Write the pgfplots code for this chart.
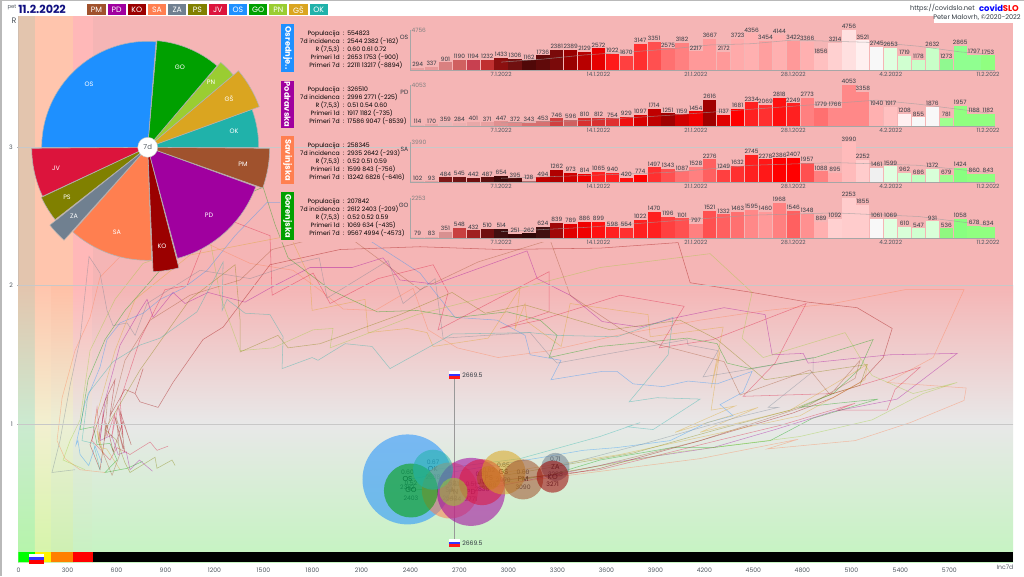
\documentclass[border=0pt]{standalone}
\usepackage{fontspec}
\setmainfont{Poppins}
\usepackage{pgfplots}
\pgfplotsset{compat=1.18}
% party colours
\definecolor{cPM}{HTML}{A0522D}\definecolor{cPD}{HTML}{A0009F}\definecolor{cKO}{HTML}{9B0000}
\definecolor{cSA}{HTML}{FF7F50}\definecolor{cZA}{HTML}{708090}\definecolor{cPS}{HTML}{808000}
\definecolor{cJV}{HTML}{DC143C}\definecolor{cOS}{HTML}{1E90FF}\definecolor{cGO}{HTML}{00A000}
\definecolor{cPN}{HTML}{9ACD32}\definecolor{cGS}{HTML}{DAA520}\definecolor{cOK}{HTML}{20B2AA}
\definecolor{navy2}{HTML}{101080}\definecolor{txt}{HTML}{303840}\definecolor{tick}{HTML}{505860}
\definecolor{pinkbg}{HTML}{F5B5B5}\definecolor{gridc}{HTML}{C8C8C8}
% background columns: top / R=2 / R=1 / bottom
\definecolor{a1}{HTML}{E3C5AE}\definecolor{a2}{HTML}{E3C5AE}\definecolor{a3}{HTML}{CBEAD0}\definecolor{a4}{HTML}{B4F5A8}
\definecolor{b1}{HTML}{FFC5AD}\definecolor{b2}{HTML}{FFC5AD}\definecolor{b3}{HTML}{F2F0D0}\definecolor{b4}{HTML}{D4F5A8}
\definecolor{d1}{HTML}{FFC5AD}\definecolor{d2}{HTML}{FFC0A6}\definecolor{d3}{HTML}{ECEFD5}\definecolor{d4}{HTML}{CCF0B0}
\definecolor{e1}{HTML}{FFB8B8}\definecolor{e2}{HTML}{FFB8B8}\definecolor{e3}{HTML}{E8E8E0}\definecolor{e4}{HTML}{C6F2C0}
\definecolor{f1}{HTML}{F5B5B5}\definecolor{f2}{HTML}{F5B5B5}\definecolor{f3}{HTML}{E8E8E8}\definecolor{f4}{HTML}{C4F4C0}
\newcommand\BG[3]{%
 \addplot[draw=none,fill=#31] coordinates {(#1,3.946)(#2,3.946)(#2,2)(#1,2)} --cycle;
 \addplot[draw=none,top color=#32,bottom color=#33] coordinates {(#1,2)(#2,2)(#2,1)(#1,1)} --cycle;
 \addplot[draw=none,top color=#33,bottom color=#34] coordinates {(#1,1)(#2,1)(#2,0.0036)(#1,0.0036)} --cycle;}
\pgfplotsset{traj/.style={line width=.4pt,opacity=.42}}
\newcommand\T[2]{\addplot[traj,draw=#1] coordinates {#2};}
\newcommand\BUB[4]{\addplot[only marks,mark=*,mark size=#3*0.75pt,mark options={draw opacity=0,fill=#4,fill opacity=.55}] coordinates {(#1,#2)};}
\newcommand\BL[5]{\node[align=center,inner sep=0pt,font=\fontsize{4.6}{5.6}\selectfont,text=txt] at (axis cs:#1,#2) {#3\\{\fontsize{5.4}{5.6}\selectfont\color{black}#4}\\#5};}
% bars
\newcommand\B[3]{\definecolor{c#3}{HTML}{#3}\addplot[ybar,bar width=9.97pt,bar shift=0pt,draw=none,fill=c#3,nodes near coords] coordinates {(#1,#2)};}
\pgfplotsset{panel/.style={scale only axis,width=438.75pt,clip=false,xmin=-0.55,xmax=41.5,ymin=0,
  axis x line=bottom,axis y line=left,axis line style={-,draw=gray!70,line width=.4pt},
  ytick=\empty,xtick={6,13,20,27,34,41},xticklabels={7.1.2022,14.1.2022,21.1.2022,28.1.2022,4.2.2022,11.2.2022},
  major tick length=0pt,x tick label style={font=\fontsize{4.3}{5}\selectfont,text=tick,yshift=2.2pt},
  every node near coord/.append style={font=\fontsize{4.4}{5}\selectfont,text=txt,inner sep=.4pt,yshift=.3pt},
  /pgf/number format/.cd,1000 sep={},fixed,precision=0,assume math mode=true}}
\newcommand\trend[1]{\addplot[line width=.4pt,draw=gray!75,opacity=.7] coordinates {#1};}
% stats block
\newcommand\SL[3]{%
  \node[anchor=base east,inner sep=0pt,font=\fontsize{4.6}{6}\selectfont,text=black] at (340,#1+1.8) {#2};
  \node[anchor=base,inner sep=0pt,font=\fontsize{4.6}{6}\selectfont,text=black] at (343.5,#1+1.8) {:};
  \node[anchor=base west,inner sep=0pt,font=\fontsize{4.6}{6}\selectfont,text=black] at (347,#1+1.8) {#3};}
\newcommand\Stat[6]{%
 \SL{#1}{Populacija}{#2}\SL{#1+8}{7d incidenca}{#3}\SL{#1+16}{R (7,5,3)}{#4}\SL{#1+24}{Primeri 1d}{#5}\SL{#1+32}{Primeri 7d}{#6}}
\newcommand\Tab[4]{\fill[#2] (281,#3) rectangle (294,#4);
 \node[rotate=-90,text=white,font=\fontsize{6.2}{6}\selectfont\bfseries,inner sep=0pt] at (287.5,{(#3+#4)/2}) {#1};}
\newcommand\Btn[3]{\fill[#2] (#3,4) rectangle ++(18.2,11);
 \node[text=white,font=\fontsize{5.8}{6}\selectfont,inner sep=0pt] at (#3+9.1,9.7) {#1};}
\newcommand\Flag[2]{\fill[white] (#1,#2) rectangle ++(11,2.8);\fill[blue!80] (#1,#2+2.8) rectangle ++(11,2.6);\fill[red!90] (#1,#2+5.4) rectangle ++(11,2.8);}
\begin{document}
\begin{tikzpicture}[x=0.75pt,y=-0.75pt]
\useasboundingbox (0,0) rectangle (1024,576);
\fill[white] (0,0) rectangle (1024,576);
\begin{axis}[at={(13.875pt,-421.5pt)},anchor=south west,scale only axis,width=745.9pt,height=409.5pt,
  xmin=0,xmax=6090,ymin=0.0036,ymax=3.946,
  axis x line=bottom,axis y line=left,axis line style={-,draw=gray!60,line width=.4pt},
  xtick={0,300,...,5700},ytick={1,2,3},
  major tick length=1.5pt,tick style={draw=gray!60},
  tick label style={font=\fontsize{4.6}{5}\selectfont,text=tick},
  /pgf/number format/.cd,1000 sep={},assume math mode=true]
\BG{0}{100}{a}\BG{100}{200}{b}\BG{200}{336}{d}\BG{336}{454}{e}\BG{454}{6090}{f}
% trajectories (7-day incidence, R) of the twelve regions
\T{cOS}{(510,.72)(470,.84)(430,.70)(377,.78)(364,.88)(352,.85)(407,1.15)(499,1.41)(542,1.61)(622,1.73)(763,1.80)(867,1.90)(1008,1.98)(1155,2.11)(1326,2.36)(1522,2.60)(1602,2.60)(1724,2.55)(2104,2.36)(2459,2.09)(2551,1.95)(2673,1.77)(2931,1.75)(3102,1.64)(3133,1.50)(3322,1.46)(3261,1.32)(3574,1.38)(3665,1.38)(3763,1.29)(3947,1.27)(4100,1.31)(4278,1.29)(4492,1.38)(4437,1.23)(4296,1.14)(4376,1.06)(4217,1.01)(3990,.88)(3665,.83)(3457,.81)(3212,.76)(2382,.60)}
\T{cGO}{(760,.73)(665,.68)(530,.65)(603,.74)(560,.86)(481,.85)(460,.98)(377,.96)(426,1.32)(530,1.61)(652,1.82)(867,2.11)(1173,2.55)(1498,2.71)(1571,2.44)(1651,2.20)(1908,1.97)(2196,1.81)(2441,1.82)(2686,1.77)(2992,1.81)(3194,1.75)(3298,1.64)(3249,1.48)(3561,1.56)(4094,1.62)(4278,1.58)(4339,1.44)(4480,1.40)(4878,1.48)(5233,1.61)(5153,1.40)(4988,1.22)(4786,1.12)(5013,1.15)(5264,1.18)(4860,1.04)(4602,.88)(4253,.83)(4002,.83)(3561,.74)(3255,.63)(2403,.52)}
\T{cPD}{(820,.66)(740,.74)(683,.67)(660,.80)(610,.78)(570,.92)(499,.88)(530,1.17)(622,1.57)(744,1.82)(787,1.90)(824,1.77)(946,1.95)(1020,1.87)(1161,1.95)(1387,1.88)(1553,1.99)(1785,2.13)(2043,2.13)(2232,2.20)(2336,2.04)(2551,2.01)(3114,2.25)(3176,2.05)(3378,1.93)(3574,1.74)(3806,1.70)(4033,1.77)(4321,1.84)(4572,1.79)(4615,1.50)(4805,1.51)(4835,1.44)(5337,1.50)(5748,1.51)(5380,1.18)(4988,1.09)(4633,.96)(4253,.83)(3684,.73)(2771,.51)}
\T{cSA}{(530,.65)(377,.67)(285,.75)(236,.88)(267,1.19)(346,1.53)(438,1.77)(499,2.06)(665,2.26)(1050,2.36)(1418,2.16)(1681,2.11)(1865,1.95)(1988,1.83)(2184,1.82)(2416,1.98)(2508,1.68)(2686,1.55)(2937,1.48)(3255,1.53)(3665,1.64)(4173,1.75)(4584,1.82)(4988,1.87)(5429,1.97)(5790,1.97)(5601,1.48)(5319,1.30)(5803,1.26)(5790,1.17)(5460,1.01)(5123,.88)(4584,.82)(4774,.89)(4173,.75)(2642,.52)}
\T{cJV}{(916,.84)(848,.81)(806,.87)(683,.78)(603,.83)(560,.74)(450,.88)(481,1.12)(499,.88)(518,1.08)(542,.91)(591,1.08)(570,.90)(610,1.13)(640,.92)(622,1.17)(744,1.61)(897,1.97)(1032,2.00)(1142,2.33)(1296,2.47)(1540,2.36)(1553,1.93)(1804,2.09)(1908,1.87)(2202,2.05)(2539,2.15)(2631,1.95)(2569,1.68)(3249,2.10)(3249,1.81)(2949,1.69)(3194,1.75)(3684,1.93)(4076,1.85)(3923,1.55)(4253,1.61)(4823,1.87)(4633,1.44)(4437,1.20)(4988,1.22)(5521,1.41)(5368,1.25)(5319,1.10)(5013,1.10)(5123,1.15)(4664,.99)(4278,.88)(3561,.67)(2838,.58)}
\T{cKO}{(640,.82)(590,1.05)(650,.80)(620,1.10)(690,.85)(640,1.02)(580,.80)(540,1.00)(499,.67)(438,.85)(530,1.17)(591,1.32)(560,1.06)(652,1.25)(714,1.22)(763,1.40)(714,1.22)(744,1.16)(855,1.12)(946,1.30)(1130,1.61)(1253,1.70)(1540,2.15)(1969,2.26)(2459,2.28)(2949,2.26)(3561,2.27)(4039,2.31)(4113,2.02)(4492,1.95)(4835,1.88)(5135,1.84)(5350,1.69)(5295,1.48)(5153,1.30)(4988,1.19)(4743,1.08)(4174,.88)(3561,.68)(3271,.62)}
\T{cGS}{(622,.67)(540,.82)(499,.83)(480,.95)(520,.78)(469,1.03)(591,1.53)(714,1.90)(1050,2.22)(1663,2.36)(1785,2.05)(1798,1.82)(2122,1.90)(2141,1.66)(2380,1.69)(2502,1.66)(2539,1.56)(2876,1.62)(3071,1.98)(3041,1.69)(3102,1.87)(3114,1.74)(3323,1.56)(3378,1.87)(3855,1.79)(3868,1.63)(4315,1.70)(4241,1.26)(4296,1.53)(4241,1.10)(4388,1.13)(4021,.94)(4529,1.12)(4174,.94)(4725,1.10)(5197,1.43)(5184,1.32)(4786,1.06)(3684,.78)(2970,.65)}
\T{cPN}{(408,.67)(273,.74)(316,.88)(377,1.03)(438,1.53)(591,1.90)(763,2.16)(1173,2.33)(1234,1.93)(1357,1.53)(1559,1.55)(1804,1.68)(1926,1.69)(1908,1.55)(2441,1.79)(3071,1.98)(3561,2.13)(4235,2.23)(4492,1.95)(4431,1.62)(4560,1.48)(5062,1.66)(5153,1.48)(5227,1.35)(5478,1.22)(5748,1.30)(5540,1.22)(5227,1.03)(4786,.91)(4051,.80)(2664,.51)}
\T{cPS}{(959,.70)(940,.74)(848,.68)(836,.76)(683,.65)(652,.72)(603,.88)(530,.96)(744,1.39)(1050,1.90)(1326,2.15)(1357,1.75)(1357,1.52)(1589,1.64)(1651,1.55)(1847,1.58)(2337,1.79)(2655,1.95)(2857,1.80)(3102,1.86)(3623,1.68)(4051,1.75)(4278,1.61)(4572,1.32)(5197,1.43)(5153,1.28)(4988,1.22)(4725,1.10)(4278,.96)(3763,.79)(2880,.61)}
\T{cZA}{(346,.67)(205,.65)(254,.88)(316,1.28)(377,1.61)(432,2.21)(499,2.09)(542,1.82)(579,1.71)(665,1.73)(714,1.64)(787,1.87)(1112,2.11)(1418,2.05)(1694,2.16)(1841,2.20)(1890,1.91)(2263,2.18)(2355,1.87)(2551,2.05)(2600,1.62)(3133,1.66)(3255,1.49)(3298,1.44)(4094,1.61)(4100,1.57)(4284,1.53)(4192,1.34)(4498,1.40)(4866,1.48)(4866,1.38)(4590,1.12)(4652,1.12)(4406,1.05)(3806,.85)(3288,.69)}
\T{cPM}{(640,.90)(600,1.04)(620,.78)(573,.63)(487,.88)(548,1.21)(524,.88)(652,1.46)(806,1.75)(1050,1.93)(1357,2.04)(1553,2.26)(1785,2.33)(2012,2.36)(2459,1.97)(2814,2.17)(3255,2.33)(3378,1.93)(3696,1.68)(3929,1.57)(4321,1.45)(4419,1.21)(4847,1.39)(4970,1.21)(5153,1.46)(5123,1.33)(4847,1.14)(4174,.88)(3561,.70)(3090,.60)}
\T{cOK}{(499,.67)(460,.86)(389,.88)(426,1.22)(579,1.45)(744,1.57)(867,1.62)(1093,1.81)(1253,2.17)(1247,1.82)(1277,1.90)(1387,1.80)(1540,1.79)(1620,1.63)(1614,1.40)(1798,1.48)(1834,1.46)(2000,1.58)(2165,1.56)(2275,1.40)(2612,1.62)(2655,1.65)(3133,1.66)(3298,1.64)(3665,1.63)(4008,1.77)(3978,1.50)(3739,1.16)(3910,1.19)(4174,1.18)(3886,.96)(3727,.98)(3806,1.01)(3561,.91)(3071,.75)(2538,.67)}
% panel backdrop and R grid lines
\addplot[draw=none,fill=pinkbg] coordinates {(1601,3.946)(6090,3.946)(6090,2.314)(1601,2.314)} --cycle;
\addplot[draw=gridc,line width=.4pt] coordinates {(0,1)(6090,1)};
\addplot[draw=gridc,line width=.4pt] coordinates {(0,2)(6090,2)};
\addplot[draw=gridc,line width=.4pt] coordinates {(0,3)(6090,3)};
% strip above the x axis
\addplot[draw=none,fill=green] coordinates {(0,.0036)(100,.0036)(100,.0725)(0,.0725)} --cycle;
\addplot[draw=none,fill=yellow] coordinates {(100,.0036)(200,.0036)(200,.0725)(100,.0725)} --cycle;
\addplot[draw=none,fill=orange] coordinates {(200,.0036)(336,.0036)(336,.0725)(200,.0725)} --cycle;
\addplot[draw=none,fill=red] coordinates {(336,.0036)(454,.0036)(454,.0725)(336,.0725)} --cycle;
\addplot[draw=none,fill=black] coordinates {(454,.0036)(6090,.0036)(6090,.0725)(454,.0725)} --cycle;
% national value
\addplot[draw=gray!80,line width=.6pt] coordinates {(2669.5,.135)(2669.5,1.345)};
% bubbles
\BUB{2382}{.60}{45}{cOS}
\BUB{2642}{.52}{28}{cSA}
\BL{2642}{.52}{0.52}{SA}{2642}
\BUB{2771}{.51}{34}{cPD}
\BL{2771}{.51}{0.51}{PD}{2771}
\BL{2382}{.60}{0.60}{OS}{2382}
\BUB{2403}{.52}{27}{cGO}
\BUB{2538}{.67}{20}{cOK}
\BL{2880}{.61}{0.62}{PS}{2880}
\BUB{2880}{.61}{12}{cPS}
\BUB{2838}{.58}{23}{cJV}
\BUB{2970}{.65}{22}{cGS}
\BUB{3090}{.60}{20}{cPM}
\BUB{2664}{.51}{14}{cPN}
\BUB{3288}{.69}{14}{cZA}
\BUB{3271}{.62}{16}{cKO}
\BL{2403}{.52}{0.52}{GO}{2403}
\BL{2538}{.67}{0.67}{OK}{2538}
\BL{2664}{.51}{0.51}{PN}{2664}
\BL{2838}{.58}{0.60}{JV}{2838}
\BL{2970}{.65}{0.65}{GŠ}{2970}
\BL{3090}{.60}{0.60}{PM}{3090}
\BL{3288}{.69}{0.71}{ZA}{3288}
\BL{3271}{.60}{}{KO}{3271}
\end{axis}
\node[font=\fontsize{4.6}{5}\selectfont,text=tick,inner sep=0pt] at (1005,567.5) {Inc7d};
\node[font=\fontsize{6}{6}\selectfont,text=tick,inner sep=0pt] at (14,21) {R};
% flags with the national value
\Flag{449}{371}\Flag{449}{539}
\node[anchor=west,inner sep=0pt,font=\fontsize{4.6}{5}\selectfont,text=txt] at (462,375) {2669.5};
\node[anchor=west,inner sep=0pt,font=\fontsize{4.6}{5}\selectfont,text=txt] at (462,543) {2669.5};
\fill[white] (29,554) rectangle ++(15,3.2);\fill[blue!80] (29,557.2) rectangle ++(15,3.2);\fill[red] (29,560.4) rectangle ++(15,3.2);
% header
\node[inner sep=0pt,font=\fontsize{4}{5}\selectfont,text=tick] at (12,7) {pet};
\node[anchor=west,inner sep=0pt,font=\fontsize{8.4}{10}\selectfont\bfseries,text=navy2] at (18,9.5) {11.2.2022};
\Btn{PM}{cPM}{87.3}\Btn{PD}{cPD}{107.5}\Btn{KO}{cKO}{127.7}\Btn{SA}{cSA}{147.9}
\Btn{ZA}{cZA}{168.1}\Btn{PS}{cPS}{188.3}\Btn{JV}{cJV}{208.6}\Btn{OS}{cOS}{228.8}
\Btn{GO}{cGO}{249}\Btn{PN}{cPN}{269.2}\Btn{GŠ}{cGS}{289.4}\Btn{OK}{cOK}{309.6}
\node[anchor=east,inner sep=0pt,font=\fontsize{5}{6}\selectfont,text=txt] at (975,8.2) {https://covidslo.net};
\node[anchor=east,inner sep=0pt,font=\fontsize{6.3}{7}\selectfont\bfseries] at (1019,8) {\textcolor{blue}{covid}\textcolor{red}{SLO}};
\fill[white] (934,12) rectangle (1024,23);
\node[anchor=east,inner sep=0pt,font=\fontsize{4.9}{6}\selectfont,text=txt] at (1021,17.8) {Peter Malovrh, ©2020-2022};
% region tabs
\Tab{Osrednje..}{cOS}{24}{72}\Tab{Podravska}{cPD}{81}{128}\Tab{Savinjska}{cSA}{136}{184}\Tab{Gorenjska}{cGO}{192}{240}
\Stat{33.7}{554823}{2544 2382 (-162)}{0.60 0.61 0.72}{2653 1753 (-900)}{22111 13217 (-8894)}
\Stat{89.3}{326510}{2996 2771 (-225)}{0.51 0.54 0.60}{1917 1182 (-735)}{17586 9047 (-8539)}
\Stat{145.3}{258345}{2935 2642 (-293)}{0.52 0.51 0.59}{1599 843 (-756)}{13242 6826 (-6416)}
\Stat{201.3}{207842}{2612 2403 (-209)}{0.52 0.52 0.59}{1069 634 (-435)}{9567 4994 (-4573)}
% panel: Osrednje
\begin{axis}[panel,at={(307.5pt,-52.5pt)},anchor=south west,height=30pt,ymax=4756]
\B{0}{294}{E8A0A0}\B{1}{337}{E89A9A}\B{2}{901}{D98080}\B{3}{1190}{D06060}\B{4}{1194}{C84050}\B{5}{1232}{C03030}\B{6}{1433}{8B1010}
\B{7}{1306}{701010}\B{8}{1162}{500808}\B{9}{1736}{600A0A}\B{10}{2381}{7A0A0A}\B{11}{2389}{990000}\B{12}{2129}{B80000}\B{13}{2572}{E60000}
\B{14}{1922}{FF1A1A}\B{15}{1670}{FF4040}\B{16}{3147}{FF3030}\B{17}{3351}{FF5050}\B{18}{2575}{FF7070}\B{19}{3182}{FF8080}\B{20}{2217}{FF9999}
\B{21}{3667}{FF9999}\B{22}{2172}{FF9999}\B{23}{3723}{FFAAAA}\B{24}{4356}{FFB0B0}\B{25}{3454}{FF9F9F}\B{26}{4144}{FFB0B0}\B{27}{3422}{FF9999}
\B{28}{3366}{FFB0B0}\B{29}{1856}{FFC0C0}\B{30}{3214}{FFD0D0}\B{31}{4756}{FFE0E0}\B{32}{3521}{FFF0F0}\B{33}{2745}{F8F8F8}\B{34}{2653}{E0FFE0}
\B{35}{1719}{D0FFD0}\B{36}{1178}{C8FFC8}\B{37}{2632}{C8FFC8}\B{38}{1273}{90F990}\B{39}{2865}{90FF90}\B{40}{1797}{90FF90}\B{41}{1753}{90FF80}
\trend{(6,940)(9,1293)(12,1791)(15,2114)(18,2481)(21,2973)(24,3127)(27,3563)(30,3402)(33,3269)(36,2827)(39,2152)(41,1888)}
\node[anchor=west,inner sep=0pt,font=\fontsize{4.4}{5}\selectfont,text=gray] at (axis cs:-0.45,4756) {4756};
\node[anchor=east,inner sep=0pt,font=\fontsize{4.6}{5}\selectfont,text=txt] at (axis cs:-0.65,3900) {OS};
\end{axis}
% panel: Podravska
\begin{axis}[panel,at={(307.5pt,-94.5pt)},anchor=south west,height=30.75pt,ymax=4053]
\B{0}{114}{E8B0B0}\B{1}{170}{E8A8A8}\B{2}{359}{E8B8B8}\B{3}{284}{ECB0B0}\B{4}{401}{E8A8A8}\B{5}{371}{E8A0A0}\B{6}{447}{E09090}
\B{7}{372}{E08888}\B{8}{343}{D87070}\B{9}{453}{D87070}\B{10}{746}{D04040}\B{11}{596}{D06060}\B{12}{810}{D83030}\B{13}{812}{D83030}
\B{14}{754}{E03030}\B{15}{929}{F01010}\B{16}{1097}{D80000}\B{17}{1714}{C00000}\B{18}{1251}{A00000}\B{19}{1159}{D00000}\B{20}{1454}{F00000}
\B{21}{2616}{A00000}\B{22}{1137}{E00000}\B{23}{1681}{FF0000}\B{24}{2334}{FF2020}\B{25}{2069}{FF3030}\B{26}{2818}{FF1010}\B{27}{2249}{FF2020}
\B{28}{2773}{FF8080}\B{29}{1779}{FF7070}\B{30}{1766}{FF8888}\B{31}{4053}{FF8888}\B{32}{3358}{FF8888}\B{33}{1940}{FFB0B0}\B{34}{1917}{FFC0C0}
\B{35}{1208}{FFF0F0}\B{36}{855}{F8F8F8}\B{37}{1876}{F8F8F8}\B{38}{781}{A0FF90}\B{39}{1957}{90FF80}\B{40}{1188}{90FF80}\B{41}{1182}{90FF80}
\trend{(6,307)(12,538)(18,1052)(24,1662)(30,2255)(33,2560)(36,2157)(41,1292)}
\node[anchor=west,inner sep=0pt,font=\fontsize{4.4}{5}\selectfont,text=gray] at (axis cs:-0.45,4053) {4053};
\node[anchor=east,inner sep=0pt,font=\fontsize{4.6}{5}\selectfont,text=txt] at (axis cs:-0.65,3350) {PD};
\end{axis}
% panel: Savinjska
\begin{axis}[panel,at={(307.5pt,-136.7pt)},anchor=south west,height=30pt,ymax=3990]
\B{0}{102}{E0B0B0}\B{1}{93}{E0A0A0}\B{2}{484}{801818}\B{3}{545}{701515}\B{4}{442}{701010}\B{5}{487}{601010}\B{6}{654}{400808}
\B{7}{395}{500808}\B{8}{128}{B07070}\B{9}{494}{C00000}\B{10}{1262}{B00000}\B{11}{973}{D00000}\B{12}{814}{F00000}\B{13}{1065}{FF2020}
\B{14}{940}{FF2020}\B{15}{420}{FF1010}\B{16}{774}{FF0000}\B{17}{1497}{FF3030}\B{18}{1343}{FF5050}\B{19}{1087}{FF7070}\B{20}{1528}{FF8080}
\B{21}{2276}{FF6060}\B{22}{1249}{FF4040}\B{23}{1632}{FF3030}\B{24}{2745}{FF2020}\B{25}{2278}{FF1818}\B{26}{2386}{FF0000}\B{27}{2407}{FF0000}
\B{28}{1957}{FF5050}\B{29}{1088}{FF8080}\B{30}{895}{FFAAAA}\B{31}{3990}{FFBBBB}\B{32}{2252}{FFCCCC}\B{33}{1461}{F0F0F0}\B{34}{1599}{E0FFE0}
\B{35}{962}{D0FFD0}\B{36}{686}{C0FFC0}\B{37}{1372}{D8FFD8}\B{38}{679}{A0FF90}\B{39}{1424}{88FF80}\B{40}{860}{90FF80}\B{41}{843}{90FF80}
\trend{(6,401)(12,674)(18,979)(24,1694)(30,1965)(36,1692)(41,975)}
\node[anchor=west,inner sep=0pt,font=\fontsize{4.4}{5}\selectfont,text=gray] at (axis cs:-0.45,3990) {3990};
\node[anchor=east,inner sep=0pt,font=\fontsize{4.6}{5}\selectfont,text=txt] at (axis cs:-0.65,3300) {SA};
\end{axis}
% panel: Gorenjska
\begin{axis}[panel,at={(307.5pt,-178.5pt)},anchor=south west,height=30pt,ymax=2253]
\B{0}{79}{E8B0B0}\B{1}{83}{E8A8A8}\B{2}{351}{D89090}\B{3}{548}{C84040}\B{4}{432}{A02020}\B{5}{510}{701010}\B{6}{514}{401010}
\B{7}{251}{3A0808}\B{8}{262}{300808}\B{9}{624}{401010}\B{10}{839}{A00808}\B{11}{789}{E00000}\B{12}{886}{F00000}\B{13}{899}{FF1010}
\B{14}{598}{FF2020}\B{15}{554}{FF3030}\B{16}{1022}{FF2020}\B{17}{1470}{FF2020}\B{18}{1196}{FF4040}\B{19}{1101}{FF5050}\B{20}{797}{FF8080}
\B{21}{1521}{FF5050}\B{22}{1332}{FF6060}\B{23}{1463}{FF7070}\B{24}{1595}{FF8888}\B{25}{1460}{FF9999}\B{26}{1968}{FF8080}\B{27}{1546}{FF6060}
\B{28}{1348}{FF9090}\B{29}{889}{FFB0B0}\B{30}{1092}{FFD0D0}\B{31}{2253}{FFCCCC}\B{32}{1855}{FFCCCC}\B{33}{1061}{F8F8F8}\B{34}{1069}{E0FFE0}
\B{35}{610}{D8FFD8}\B{36}{547}{D0FFD0}\B{37}{931}{D8FFD8}\B{38}{536}{90F880}\B{39}{1058}{88FF80}\B{40}{678}{90FF80}\B{41}{634}{90FF80}
\trend{(6,360)(12,595)(18,946)(24,1286)(30,1414)(36,1212)(41,713)}
\node[anchor=west,inner sep=0pt,font=\fontsize{4.4}{5}\selectfont,text=gray] at (axis cs:-0.45,2253) {2253};
\node[anchor=east,inner sep=0pt,font=\fontsize{4.6}{5}\selectfont,text=txt] at (axis cs:-0.65,1850) {GO};
\end{axis}
% pie of the regions (angle from, angle to, radius in px)
\begin{scope}[shift={(147.7,147.3)}]
\foreach \aa/\bb/\rr/\cc in {0/20/111/cOK,20/40.1/118.7/cGS,40.2/49.3/112/cPN,49.6/85/107/cGO,85.5/180/106/cOS,
   180.5/205/116/cJV,205.2/218/117.5/cPS,218.5/228/125/cZA,228.5/272/113/cSA,272.5/284.5/124.5/cKO,285/340/115/cPD,340.5/359.5/122/cPM}{
  \pgfmathsetmacro\RR{\rr*0.75}
  \fill[\cc,draw=gray!60,line width=.4pt] (0pt,0pt) -- (\aa:\RR pt) arc[start angle=\aa,end angle=\bb,radius=\RR pt] -- cycle;}
\fill[white,draw=gray!50,line width=.3pt] (0pt,0pt) circle[radius=7.5pt];
\node[font=\fontsize{5.2}{6}\selectfont,text=tick,inner sep=0pt] at (0pt,0pt) {7d};
\end{scope}
\foreach \xx/\yy/\tt in {89/84/OS,180/67/GO,211/82/PN,229/99/GŠ,234/131/OK,243/164/PM,209/215/PD,162/246/KO,117/232/SA,74/216/ZA,67/197/PS,56/168/JV}
  \node[text=white,font=\fontsize{4.8}{6}\selectfont,inner sep=0pt] at (\xx,\yy) {\tt};
% frame
\fill[gray!55] (0,0) rectangle (1024,1.2);
\fill[gray!55] (0,0) rectangle (1.5,576);
\end{tikzpicture}
\end{document}
